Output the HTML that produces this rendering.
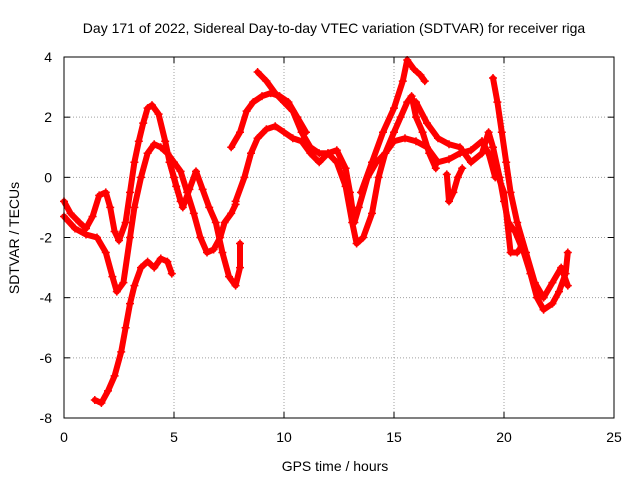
<!DOCTYPE html>
<html><head><meta charset="utf-8"><style>
body{margin:0;background:#fff}
svg{display:block;font-family:"Liberation Sans",sans-serif}
</style></head><body>
<svg id="chart" width="640" height="480">
<rect width="640" height="480" fill="#fff"/>
<text x="334" y="33" font-size="14" text-anchor="middle">Day 171 of 2022, Sidereal Day-to-day VTEC variation (SDTVAR) for receiver riga</text>
<text x="335" y="471" font-size="14" text-anchor="middle">GPS time / hours</text>
<text transform="translate(19,238) rotate(-90)" font-size="14" text-anchor="middle">SDTVAR / TECUs</text>
<g id="grid"></g><g id="ticks"></g><g id="series"></g>
<rect x="64" y="57" width="550" height="361" fill="none" stroke="#000"/>
</svg>
<script>
const xTicks=[0,5,10,15,20,25];
const yTicks=[-8,-6,-4,-2,0,2,4];
const trackA=[[0,-0.8],[0.3,-1.2],[0.7,-1.5],[1.0,-1.7],[1.3,-1.3],[1.6,-0.6],[1.9,-0.5],[2.1,-1.0],[2.3,-1.8],[2.5,-2.1],[2.8,-1.5],[3.0,-0.5],[3.2,0.5],[3.4,1.2],[3.6,1.8],[3.8,2.3],[4.0,2.4],[4.3,2.1],[4.6,1.2],[4.8,0.5],[5.0,0],[5.3,-0.8]];
const trackB=[[0,-1.3],[0.5,-1.7],[1.0,-1.9],[1.5,-2.0],[1.9,-2.5],[2.2,-3.3],[2.4,-3.8],[2.7,-3.5],[3.0,-2.0],[3.2,-1.0],[3.5,0.0],[3.8,0.8],[4.1,1.1],[4.4,1.0],[4.7,0.8],[5.0,0.5],[5.3,0.2],[5.6,-0.5],[5.9,-1.2],[6.2,-2.0],[6.5,-2.5],[6.8,-2.4],[7.1,-2.0],[7.3,-1.5],[7.6,-1.2],[7.8,-0.9]];
const trackC=[[1.4,-7.4],[1.7,-7.5],[2.0,-7.1],[2.3,-6.6],[2.6,-5.8],[2.8,-5.0],[3.0,-4.2],[3.2,-3.6],[3.5,-3.0],[3.8,-2.8],[4.1,-3.0],[4.4,-2.7],[4.7,-2.8],[4.9,-3.2]];
const trackD=[[4.8,0.5],[5.1,-0.3],[5.4,-1.0],[5.7,-0.4],[6.0,0.2],[6.3,-0.4],[6.6,-1.0],[6.9,-1.5],[7.2,-2.5],[7.5,-3.3],[7.8,-3.6],[8.0,-3.0],[8.0,-2.2]];
const trackE=[[7.6,1.0],[8.0,1.5],[8.3,2.2],[8.6,2.5],[9.0,2.7],[9.4,2.8],[9.8,2.7],[10.2,2.5],[10.6,2.0],[11.0,1.5]];
const trackF=[[8.8,3.5],[9.2,3.2],[9.6,2.8],[10.0,2.5],[10.4,2.2],[10.8,1.5],[11.2,1.0],[11.6,0.8],[12.0,0.8],[12.4,0.5],[12.8,-0.3],[13.1,-1.5],[13.3,-2.2],[13.6,-2.0],[14.0,-1.2],[14.3,0.0],[14.6,0.8],[15.0,1.5],[15.3,2.0],[15.6,2.5],[15.8,2.7],[16.0,2.0],[16.3,1.5],[16.6,0.8],[16.9,0.3]];
const trackG=[[7.8,-0.8],[8.2,0.0],[8.5,0.8],[8.8,1.3],[9.2,1.6],[9.6,1.7],[10.0,1.5],[10.4,1.3],[10.8,1.2],[11.2,0.8],[11.6,0.5],[12.0,0.8],[12.4,0.9],[12.8,0.3],[13.0,-0.5],[13.2,-1.5],[13.4,-1.0],[13.8,0.0],[14.2,0.5],[14.6,0.8],[15.0,1.2],[15.5,1.3],[16.0,1.2],[16.5,1.0],[17.0,0.5],[17.5,0.6],[18.0,0.8],[18.5,0.9],[19.0,1.2],[19.3,0.8],[19.6,0.0]];
const trackH=[[13.5,-0.5],[14.0,0.5],[14.5,1.5],[15.0,2.3],[15.4,3.2],[15.6,3.9],[15.9,3.6],[16.2,3.4],[16.4,3.2]];
const trackI=[[16.0,2.5],[16.5,1.8],[17.0,1.3],[17.5,1.1],[18.0,1.0],[18.5,0.5],[19.0,0.8],[19.3,1.5],[19.5,1.0],[19.8,0.0],[20.0,-0.8],[20.2,-1.5],[20.5,-1.8],[20.9,-2.5],[21.2,-3.2],[21.5,-4.0],[21.8,-4.4],[22.2,-4.2],[22.5,-3.8],[22.8,-3.2],[22.9,-2.5]];
const trackJ=[[17.4,0.1],[17.5,-0.8],[17.7,-0.5],[17.9,0.0],[18.1,0.3]];
const trackK=[[19.5,3.3],[19.7,2.5],[19.9,1.5],[20.1,0.5],[20.3,-0.5],[20.6,-1.5],[21.0,-2.5],[21.4,-3.5],[21.8,-4.0],[22.2,-3.5],[22.6,-3.0],[22.9,-3.6]];
const trackL=[[19.0,1.2],[19.5,0.5],[20.0,-0.5],[20.3,-2.5],[20.6,-2.5],[20.8,-2.3]];
const tracks=[trackA,trackB,trackC,trackD,trackE,trackF,trackG,trackH,trackI,trackJ,trackK,trackL];

const NS="http://www.w3.org/2000/svg";
const X0=64,X1=614,Y0=418,Y1=57;
const sx=v=>X0+(v-0)/(25-0)*(X1-X0);
const sy=v=>Y0-(v+8)/(12)*(Y0-Y1);
function mk(tag,attrs,parent){const e=document.createElementNS(NS,tag);for(const k in attrs)e.setAttribute(k,attrs[k]);parent.appendChild(e);return e;}
const grid=document.getElementById('grid'),ticks=document.getElementById('ticks'),ser=document.getElementById('series');
xTicks.forEach(t=>{const x=sx(t);
 if(t>0&&t<25){const g=mk('line',{x1:x,x2:x,y1:Y1,y2:Y0,stroke:'#a0a0a0','stroke-dasharray':'1,2'},grid);
 
 }
 mk('line',{x1:x,x2:x,y1:Y0,y2:Y0-6,stroke:'#000'},ticks);mk('line',{x1:x,x2:x,y1:Y1,y2:Y1+6,stroke:'#000'},ticks);
 const l=mk('text',{x:x,y:Y0+24,'font-size':14,'text-anchor':'middle'},ticks);l.textContent=t;
 
 });
yTicks.forEach(t=>{const y=sy(t);
 if(t>-8&&t<4){const g=mk('line',{x1:X0,x2:X1,y1:y,y2:y,stroke:'#a0a0a0','stroke-dasharray':'1,2'},grid);
 
 }
 mk('line',{x1:X0,x2:X0+6,y1:y,y2:y,stroke:'#000'},ticks);mk('line',{x1:X1,x2:X1-6,y1:y,y2:y,stroke:'#000'},ticks);
 const l=mk('text',{x:X0-12,y:y+5,'font-size':14,'text-anchor':'end'},ticks);l.textContent=t;
 
 });
tracks.forEach((tr,i)=>{
 const p=mk('polyline',{points:tr.map(d=>sx(d[0])+','+sy(d[1])).join(' '),fill:'none',stroke:'#f00','stroke-width':6,'stroke-linejoin':'round','stroke-linecap':'round'},ser);
 
 
 tr.forEach(d=>{const x=sx(d[0]),y=sy(d[1]);
  const m=mk('path',{d:`M${x-4},${y}H${x+4}M${x},${y-4}V${y+4}`,stroke:'#f00','stroke-width':1.5},ser);
  
  });
});
</script>
</body></html>
